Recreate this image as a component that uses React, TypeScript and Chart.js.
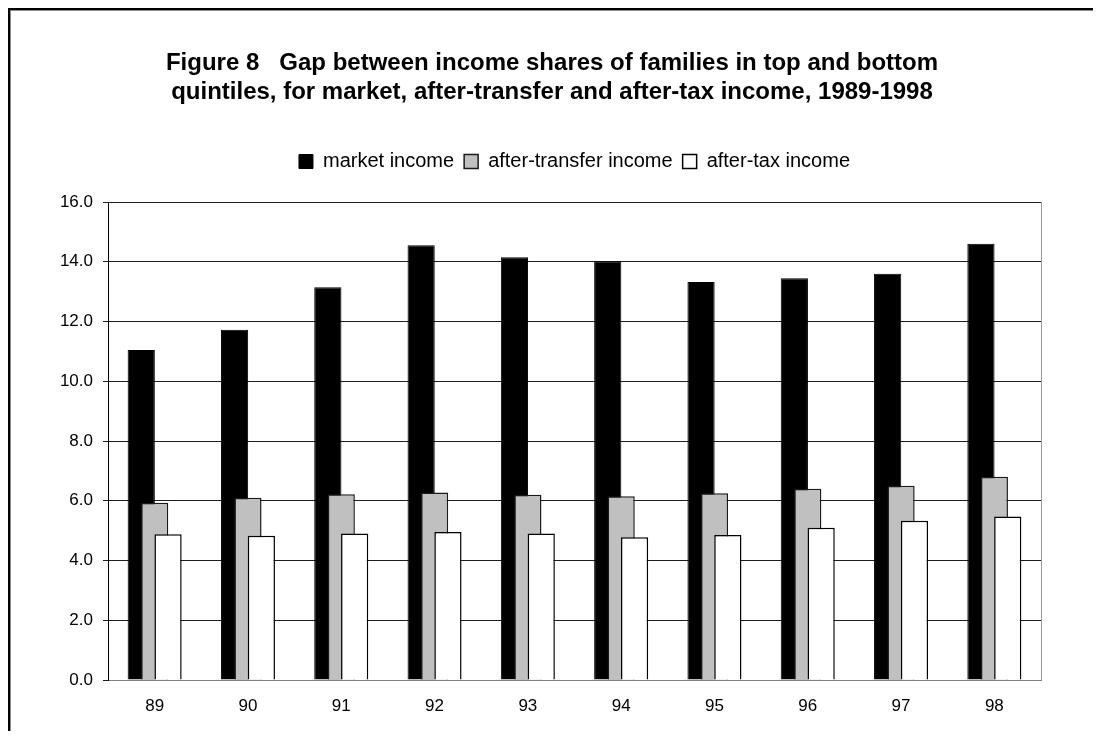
import React, { useEffect, useRef } from "react";
import { Chart, registerables } from "chart.js";

Chart.register(...registerables);

// ---- data ----
const years = ["89", "90", "91", "92", "93", "94", "95", "96", "97", "98"];
const marketIncome = [11.05, 11.72, 13.15, 14.55, 14.15, 14.02, 13.32, 13.45, 13.6, 14.6];
const afterTransferIncome = [5.93, 6.1, 6.22, 6.28, 6.2, 6.15, 6.25, 6.4, 6.5, 6.8];
const afterTaxIncome = [4.88, 4.83, 4.9, 4.95, 4.9, 4.78, 4.85, 5.1, 5.33, 5.47];
const seriesNames = ["market income", "after-transfer income", "after-tax income"];
const titleLines = [
  "Figure 8   Gap between income shares of families in top and bottom",
  "quintiles, for market, after-transfer and after-tax income, 1989-1998",
];
const yMin = 0;
const yMax = 16;
const yStep = 2;

const FONT = "'Liberation Sans', Arial, Helvetica, sans-serif";
const CANVAS_W = 1082;
const CANVAS_H = 720;
const LEGEND_GAP = 20.5;

// draw datasets left-to-right so that later (right) bars overlap earlier ones
const forwardDrawPlugin = {
  id: "forwardDraw",
  beforeDatasetsDraw(chart: any) {
    const metas = chart.getSortedVisibleDatasetMetas();
    const ctx = chart.ctx;
    const a = chart.chartArea;
    ctx.save();
    ctx.beginPath();
    ctx.rect(a.left - 2, a.top - 2, a.right - a.left + 4, a.bottom - a.top + 2);
    ctx.clip();
    metas.forEach((m: any) => m.controller.draw());
    ctx.restore();
    return false;
  },
};

const legendGapPlugin = {
  id: "legendGap",
  beforeLayout(chart: any) {
    const lg = chart.legend;
    if (lg && !lg.__gapPatched) {
      const orig = lg.fit;
      lg.fit = function () {
        orig.call(this);
        this.height += LEGEND_GAP;
      };
      lg.__gapPatched = true;
    }
  },
};

const frameRightPlugin = {
  id: "frameRight",
  afterDraw(chart: any) {
    const { ctx, chartArea: a } = chart;
    ctx.save();
    ctx.strokeStyle = "#9a9a9a";
    ctx.lineWidth = 1;
    ctx.beginPath();
    ctx.moveTo(Math.round(a.right) + 0.5, a.top);
    ctx.lineTo(Math.round(a.right) + 0.5, a.bottom);
    ctx.stroke();
    ctx.restore();
  },
};

export default function App() {
  const canvasRef = useRef<HTMLCanvasElement | null>(null);

  useEffect(() => {
    if (!canvasRef.current) return;
    const chart = new Chart(canvasRef.current, {
      type: "bar",
      data: {
        labels: years,
        datasets: [
          {
            label: seriesNames[0],
            data: marketIncome,
            backgroundColor: "#000000",
            borderColor: "#000000",
            borderWidth: 1,
          },
          {
            label: seriesNames[1],
            data: afterTransferIncome,
            backgroundColor: "#c0c0c0",
            borderColor: "#1a1a1a",
            borderWidth: 1.5,
          },
          {
            label: seriesNames[2],
            data: afterTaxIncome,
            backgroundColor: "#ffffff",
            borderColor: "#000000",
            borderWidth: 1.5,
          },
        ],
      },
      options: {
        responsive: false,
        animation: false,
        events: [],
        datasets: {
          bar: {
            categoryPercentage: 0.431,
            barPercentage: 2.03,
          },
        },
        layout: { padding: 0 },
        scales: {
          x: {
            type: "category",
            grid: { display: false, drawTicks: false },
            border: { display: true, color: "#808080", width: 1 },
            ticks: {
              color: "#000",
              font: { family: FONT, size: 17 },
              padding: 16,
              maxRotation: 0,
            },
            afterFit: (s: any) => {
              s.height = 51;
            },
          },
          y: {
            type: "linear",
            position: "left",
            min: yMin,
            max: yMax,
            grid: {
              color: "#1e1e1e",
              lineWidth: 1,
              tickLength: 5,
              drawTicks: true,
            },
            border: { display: true, color: "#000", width: 1 },
            ticks: {
              stepSize: yStep,
              color: "#000",
              padding: 10,
              font: { family: FONT, size: 17 },
              callback: (v: any) => Number(v).toFixed(1),
            },
            afterFit: (s: any) => {
              s.width = 97;
            },
          },
          yRight: {
            type: "linear",
            position: "right",
            display: true,
            grid: { display: false, drawTicks: false },
            border: { display: false },
            ticks: { display: false },
            afterFit: (s: any) => {
              s.width = 52;
            },
          },
        },
        plugins: {
          title: {
            display: true,
            text: titleLines,
            color: "#000",
            font: { family: FONT, size: 24, weight: "bold", lineHeight: "29.5px" },
            padding: { top: 37.25, bottom: 34.25 },
          },
          legend: {
            display: true,
            position: "top",
            fullSize: false,
            labels: {
              color: "#000",
              font: { family: FONT, size: 20 },
              boxWidth: 14,
              boxHeight: 14,
              padding: 10,
            },
          },
          tooltip: { enabled: false },
        },
      },
      plugins: [forwardDrawPlugin, legendGapPlugin, frameRightPlugin],
    } as any);
    return () => chart.destroy();
  }, []);

  return (
    <div
      style={{
        borderTop: "2px solid #000",
        borderLeft: "2px solid #000",
        width: CANVAS_W + 1,
        height: CANVAS_H + 1,
      }}
    >
      <div
        style={{
          borderTop: "1px solid #8a8a8a",
          borderLeft: "1px solid #8a8a8a",
          width: CANVAS_W,
          height: CANVAS_H,
        }}
      >
        <canvas
          ref={canvasRef}
          width={CANVAS_W}
          height={CANVAS_H}
          style={{ display: "block", width: CANVAS_W, height: CANVAS_H }}
        />
      </div>
    </div>
  );
}
